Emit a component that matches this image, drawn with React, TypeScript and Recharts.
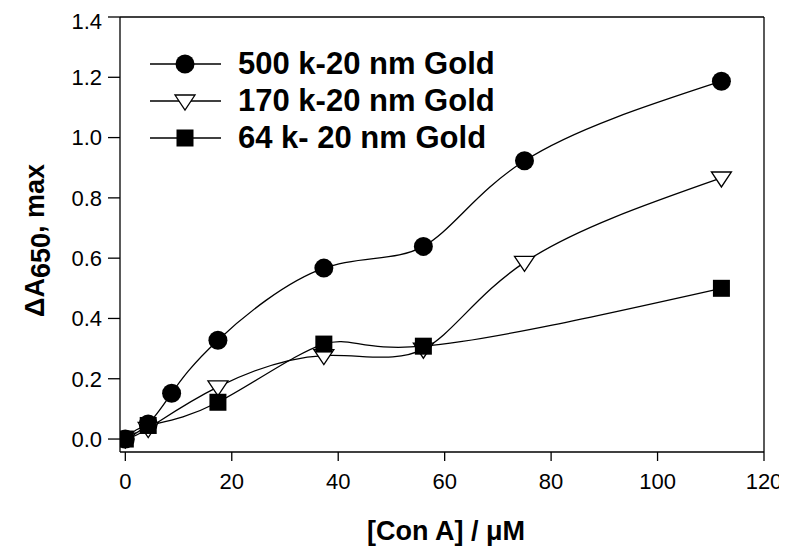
import React from "react";
import { Label, Line, LineChart, ReferenceLine, XAxis, YAxis } from "recharts";

const conA500 = [0, 4.3, 8.7, 17.4, 37.3, 56, 75, 112];
const abs500 = [0, 0.05, 0.152, 0.328, 0.567, 0.639, 0.923, 1.187];
const conA170 = [0, 4.3, 17.4, 37.3, 56, 75, 112];
const abs170 = [0, 0.035, 0.173, 0.277, 0.298, 0.586, 0.866];
const conA64 = [0, 4.3, 17.4, 37.3, 56, 112];
const abs64 = [0, 0.045, 0.122, 0.315, 0.308, 0.5];

const xTicks = [0, 20, 40, 60, 80, 100, 120];
const yTicks = [0, 0.2, 0.4, 0.6, 0.8, 1.0, 1.2, 1.4];
const seriesNames = ["500 k-20 nm Gold", "170 k-20 nm Gold", "64 k- 20 nm Gold"];

const toPoints = (xs: number[], ys: number[]) => xs.map((x, i) => ({ x, y: ys[i] }));

const data500 = toPoints(conA500, abs500);
const data170 = toPoints(conA170, abs170);
const data64 = toPoints(conA64, abs64);

const FONT = "'Liberation Sans', Arial, sans-serif";

// marker shapes, shared by the lines and the legend
const markers = [
  (x: number, y: number) => <circle cx={x} cy={y} r={9.5} fill="#000" />,
  (x: number, y: number) => (
    <path d={`M${x - 10},${y - 6} L${x + 10},${y - 6} L${x},${y + 9} Z`} fill="#fff" stroke="#000" strokeWidth={1.3} />
  ),
  (x: number, y: number) => <rect x={x - 8.5} y={y - 8.5} width={17} height={17} fill="#000" />,
];

const makeDot = (i: number) => (props: any) => {
  const { cx, cy, index } = props;
  if (cx == null || cy == null) return <g key={index} />;
  return <g key={index}>{markers[i](cx, cy)}</g>;
};

function LegendBox() {
  return (
    <div style={{ position: "absolute", left: 142, top: 37, fontFamily: FONT }}>
      {seriesNames.map((name, i) => (
        <div key={name} style={{ display: "flex", alignItems: "center", height: 37 }}>
          <svg width={72} height={24}>
            <line x1={0} y1={12} x2={71} y2={12} stroke="#000" strokeWidth={1.3} />
            {markers[i](35, 12)}
          </svg>
          <span style={{ marginLeft: 16, fontSize: 31, fontWeight: "bold", color: "#000", whiteSpace: "nowrap" }}>
            {name}
          </span>
        </div>
      ))}
    </div>
  );
}

function YLabel(props: any) {
  const vb = props.viewBox || {};
  const cx = 27;
  const cy = (vb.y ?? 0) + (vb.height ?? 0) / 2 + 6;
  return (
    <text
      x={cx}
      y={cy}
      transform={`rotate(-90, ${cx}, ${cy})`}
      textAnchor="middle"
      dominantBaseline="central"
      fontFamily={FONT}
      fontWeight="bold"
      fontSize={27}
      fill="#000"
    >
      <tspan>ΔA</tspan>
      <tspan dy={6}>650</tspan>
      <tspan dy={-6}>, max</tspan>
    </text>
  );
}

export default function App() {
  return (
    <div style={{ position: "relative", width: 779, height: 540, background: "#fff" }}>
      <LineChart width={779} height={540} margin={{ top: 9, right: 23, left: 52, bottom: 36 }}>
        <XAxis
          type="number"
          dataKey="x"
          domain={[-1, 120]}
          ticks={xTicks}
          allowDataOverflow
          stroke="#000"
          strokeWidth={1.3}
          tickSize={9}
          tickMargin={12}
          height={60}
          tick={{ fill: "#000", fontSize: 22, fontFamily: FONT }}
        >
          <Label
            value="[Con A] / μM"
            position="insideBottom"
            offset={-28}
            dx={4}
            style={{ fontFamily: FONT, fontWeight: "bold", fontSize: 27, fill: "#000" }}
          />
        </XAxis>
        <YAxis
          type="number"
          dataKey="y"
          domain={[-0.043, 1.4]}
          ticks={yTicks}
          allowDataOverflow
          width={60}
          stroke="#000"
          strokeWidth={1.3}
          tickSize={12}
          tickMargin={6}
          tickFormatter={(v: number) => v.toFixed(1)}
          tick={{ fill: "#000", fontSize: 22, fontFamily: FONT }}
          label={{ content: YLabel }}
        />
        <ReferenceLine y={1.4} stroke="#000" strokeWidth={1.3} />
        <ReferenceLine x={120} stroke="#000" strokeWidth={1.3} />
        <Line
          data={data500}
          dataKey="y"
          type="natural"
          stroke="#000"
          strokeWidth={1.3}
          dot={makeDot(0)}
          activeDot={false}
          isAnimationActive={false}
        />
        <Line
          data={data170}
          dataKey="y"
          type="natural"
          stroke="#000"
          strokeWidth={1.3}
          dot={makeDot(1)}
          activeDot={false}
          isAnimationActive={false}
        />
        <Line
          data={data64}
          dataKey="y"
          type="natural"
          stroke="#000"
          strokeWidth={1.3}
          dot={makeDot(2)}
          activeDot={false}
          isAnimationActive={false}
        />
      </LineChart>
      <LegendBox />
    </div>
  );
}
